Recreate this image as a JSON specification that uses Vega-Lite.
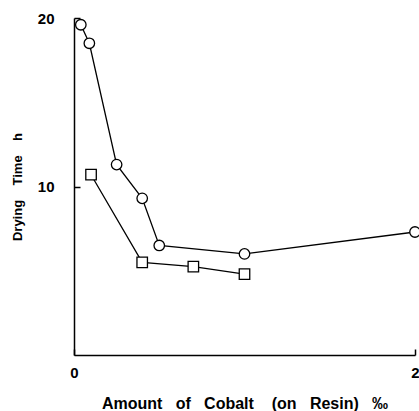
{
  "$schema": "https://vega.github.io/schema/vega-lite/v6.json",
  "width": 341,
  "height": 337,
  "autosize": {"type": "none"},
  "padding": {"left": 74, "top": 18, "right": 4, "bottom": 56},
  "background": "white",
  "config": {
    "view": {"stroke": null},
    "axis": {
      "grid": false,
      "domainColor": "black",
      "domainWidth": 1.5,
      "tickColor": "black",
      "tickWidth": 1.5,
      "labelColor": "black",
      "titleColor": "black",
      "labelFont": "Liberation Sans",
      "titleFont": "Liberation Sans",
      "labelFontSize": 15,
      "labelFontWeight": "bold",
      "titleFontWeight": "bold"
    }
  },
  "data": {
    "values": [
      {"series": "A", "x": 0.04, "y": 19.6},
      {"series": "A", "x": 0.09, "y": 18.5},
      {"series": "A", "x": 0.25, "y": 11.3},
      {"series": "A", "x": 0.40, "y": 9.3},
      {"series": "A", "x": 0.50, "y": 6.5},
      {"series": "A", "x": 1.0, "y": 6.0},
      {"series": "A", "x": 2.0, "y": 7.3},
      {"series": "B", "x": 0.10, "y": 10.7},
      {"series": "B", "x": 0.40, "y": 5.5},
      {"series": "B", "x": 0.70, "y": 5.25},
      {"series": "B", "x": 1.0, "y": 4.8}
    ]
  },
  "encoding": {
    "x": {
      "field": "x", "type": "quantitative",
      "scale": {"domain": [0, 2], "nice": false},
      "axis": {"values": [0, 1, 2], "format": "d", "tickSize": -6, "labelPadding": 16, "labelFlush": false, "title": "Amount\u00a0\u00a0\u00a0of\u00a0\u00a0\u00a0Cobalt\u00a0\u00a0\u00a0\u00a0(on\u00a0\u00a0\u00a0Resin)\u00a0\u00a0\u00a0‰", "titleFontSize": 16, "titlePadding": 15}
    },
    "y": {
      "field": "y", "type": "quantitative",
      "scale": {"domain": [0, 20], "nice": false},
      "axis": {"values": [10, 20], "tickSize": -6, "labelPadding": 26, "title": "Drying\u00a0\u00a0\u00a0\u00a0Time\u00a0\u00a0\u00a0\u00a0h", "titleFontSize": 13, "titlePadding": 13}
    }
  },
  "layer": [
    {
      "mark": {"type": "line", "color": "black", "strokeWidth": 1.3},
      "encoding": {"detail": {"field": "series"}}
    },
    {
      "mark": {"type": "point", "filled": true, "fill": "white", "stroke": "black", "strokeWidth": 1.3, "size": 110, "opacity": 1},
      "encoding": {
        "shape": {"field": "series", "type": "nominal", "scale": {"domain": ["A", "B"], "range": ["circle", "square"]}, "legend": null}
      }
    }
  ]
}
